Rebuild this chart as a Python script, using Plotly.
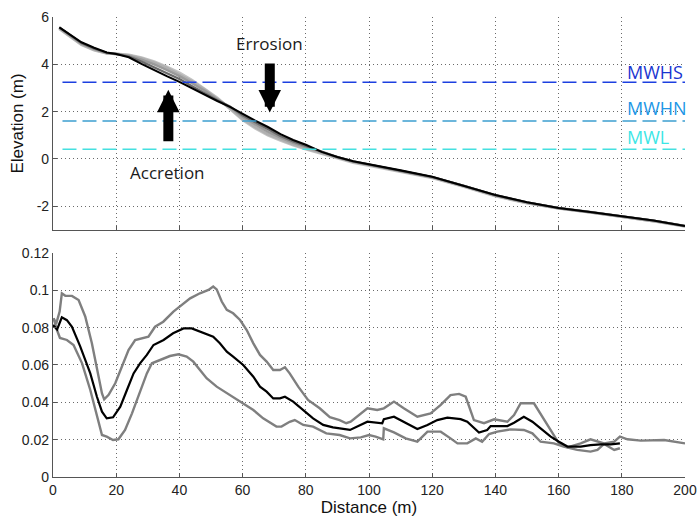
import plotly.graph_objects as go

# ---------------- top panel: beach profiles ----------------
prof_x = [2, 5, 9, 13, 17, 20, 24, 28, 32, 36, 40, 44, 48, 52, 56, 60, 64, 68, 72, 76,
          80, 85, 90, 95, 100, 110, 120, 130, 140, 150, 160, 170, 180, 190, 200]
prof_black = [5.56, 5.30, 4.93, 4.70, 4.50, 4.44, 4.30, 4.02, 3.75, 3.50, 3.26, 2.98, 2.70, 2.45, 2.20, 1.90, 1.62, 1.35, 1.05, 0.80,
              0.60, 0.30, 0.08, -0.10, -0.22, -0.48, -0.75, -1.12, -1.52, -1.83, -2.07, -2.24, -2.41, -2.60, -2.83]
prof_grey1 = [5.52, 5.22, 4.85, 4.62, 4.47, 4.44, 4.38, 4.25, 4.08, 3.85, 3.58, 3.28, 2.93, 2.55, 2.15, 1.70, 1.35, 1.05, 0.82, 0.62,
              0.45, 0.25, 0.05, -0.12, -0.25, -0.50, -0.78, -1.15, -1.55, -1.85, -2.08, -2.25, -2.42, -2.62, -2.84]
prof_grey2 = [5.55, 5.26, 4.88, 4.65, 4.48, 4.43, 4.36, 4.20, 4.00, 3.76, 3.50, 3.20, 2.88, 2.52, 2.18, 1.78, 1.45, 1.15, 0.90, 0.68,
              0.50, 0.28, 0.07, -0.11, -0.24, -0.49, -0.77, -1.14, -1.54, -1.84, -2.08, -2.25, -2.42, -2.61, -2.84]
prof_grey3 = [5.56, 5.28, 4.90, 4.67, 4.49, 4.44, 4.33, 4.12, 3.88, 3.62, 3.38, 3.08, 2.78, 2.48, 2.22, 1.85, 1.55, 1.25, 0.97, 0.74,
              0.55, 0.30, 0.08, -0.10, -0.23, -0.48, -0.76, -1.13, -1.53, -1.83, -2.07, -2.24, -2.41, -2.60, -2.83]
prof_grey4 = [5.50, 5.20, 4.83, 4.60, 4.46, 4.44, 4.40, 4.28, 4.12, 3.90, 3.64, 3.33, 2.97, 2.58, 2.12, 1.65, 1.30, 1.00, 0.78, 0.58,
              0.42, 0.22, 0.02, -0.15, -0.28, -0.53, -0.80, -1.17, -1.57, -1.87, -2.09, -2.26, -2.43, -2.63, -2.85]

level_names = ["MWHS", "MWHN", "MWL"]
level_values = [3.24, 1.61, 0.41]
level_line_colors = ["#1c3fe0", "#3d9fd0", "#45e0e0"]
level_text_colors = ["#1a35d0", "#2196e6", "#3de6e6"]
level_start = 3
level_end = 200

# ---------------- bottom panel: statistics ----------------
mean_x = [0, 1.3, 2.8, 4.4, 6, 8.6, 11.8, 13.9, 15.5, 17,
          19, 21.3, 23.4, 25.5, 27.6, 29.7, 31.8, 35, 38, 41.3,
          43.9, 46.5, 50.7, 52.8, 55, 57, 60.2, 63.4, 65.5, 67.6,
          69.7, 71.8, 73.4, 76, 79, 82.3, 85.5, 88.6, 94, 96.3,
          99.5, 104.2, 104.7, 107.9, 111, 115.3, 118.5, 121.6, 124.8, 129,
          131.1, 134.8, 137.4, 138.5, 143.8, 145.9, 149, 151.7, 154.3, 157.5,
          160.1, 162.8, 167, 170.1, 173.3, 176.5, 179.4]
mean_y = [0.0814, 0.079, 0.0855, 0.084, 0.0805, 0.070, 0.0555, 0.043, 0.035, 0.0314,
          0.032, 0.0377, 0.0466, 0.0555, 0.061, 0.0654, 0.0707, 0.0734, 0.077, 0.0796,
          0.0796, 0.0779, 0.0752, 0.0716, 0.0671, 0.0645, 0.060, 0.0537, 0.0484, 0.0457,
          0.0421, 0.0421, 0.043, 0.0404, 0.0359, 0.0314, 0.0279, 0.0266, 0.0252, 0.027,
          0.0296, 0.0288, 0.031, 0.0323, 0.0296, 0.0257, 0.0279, 0.0305, 0.0318, 0.031,
          0.0296, 0.0238, 0.0252, 0.0273, 0.0273, 0.0291, 0.0323, 0.0296, 0.026, 0.0216,
          0.0189, 0.0163, 0.0163, 0.0171, 0.0175, 0.0175, 0.018]

upper_x = [0.2, 1, 2.1, 2.8, 3.9, 6, 8.1, 10.2, 12.3, 13.9,
           15.5, 16.2, 17.6, 19.7, 21.8, 23.9, 26, 28.6, 30.2, 32.3,
           34.9, 38.1, 40.7, 43.4, 46.5, 49.2, 50.7, 51.8, 53.4, 55,
           57, 59.2, 61.3, 63.4, 65.5, 67.6, 69.7, 71.8, 73.4, 74.9,
           77.6, 80.7, 84.4, 87.6, 90.7, 92.8, 94.2, 97.4, 99.5, 102.6,
           104.7, 107.9, 111, 115.3, 119.5, 122.7, 125.8, 128.5, 130.6, 133.2,
           136.4, 139.6, 143.8, 145.9, 148, 152.2, 154.9, 157.5, 160.1, 162.8,
           167, 170.1, 172.3, 174.4, 177.6, 179.4, 181.8, 186, 193.4, 200]
upper_y = [0.085, 0.082, 0.0886, 0.0984, 0.0971, 0.097, 0.0948, 0.086, 0.0716, 0.0573,
           0.0448, 0.0416, 0.044, 0.0502, 0.0591, 0.068, 0.0734, 0.0743, 0.0752, 0.0805,
           0.0832, 0.0886, 0.0921, 0.0957, 0.0984, 0.1002, 0.102, 0.1005, 0.094, 0.0895,
           0.0877, 0.0841, 0.0787, 0.0716, 0.0654, 0.0618, 0.0573, 0.0573, 0.0588, 0.0555,
           0.0484, 0.0413, 0.0368, 0.032, 0.0305, 0.0288, 0.0296, 0.0341, 0.0368, 0.0359,
           0.0368, 0.0404, 0.0368, 0.0323, 0.0341, 0.0386, 0.0439, 0.0445, 0.043, 0.0305,
           0.0288, 0.0309, 0.0296, 0.0332, 0.0395, 0.0395, 0.0323, 0.0252, 0.018, 0.0159,
           0.018, 0.0202, 0.0189, 0.018, 0.0189, 0.0216, 0.0202, 0.0195, 0.0198, 0.018]

lower_x = [0.2, 1.2, 2.2, 4.4, 6.5, 9.2, 11.8, 13.9, 15.5, 17,
           19, 20.7, 22.8, 25, 27.6, 29.7, 31.3, 33.9, 37, 39.7,
           42.3, 44.4, 46.5, 48.6, 51.8, 56, 60.2, 63.4, 66.5, 70.7,
           72.3, 74.9, 76.5, 79.2, 82.3, 86.5, 90.7, 94, 97.4, 100,
           102.1, 104.5, 104.7, 107.9, 111.6, 115.3, 118.5, 122.7, 125.8, 128,
           131.1, 133.8, 135.8, 138, 140.6, 144.8, 149, 151.7, 154.3, 158.5,
           161.6, 165.9, 170.1, 172.3, 174.4, 177.6, 179.4]
lower_y = [0.085, 0.079, 0.0745, 0.0734, 0.0707, 0.0609, 0.0466, 0.0323, 0.0225, 0.0216,
           0.0198, 0.0202, 0.0252, 0.0341, 0.0466, 0.0555, 0.0609, 0.0627, 0.0648, 0.0657,
           0.0645, 0.0618, 0.0573, 0.0529, 0.0484, 0.0439, 0.0395, 0.0359, 0.0314, 0.027,
           0.027, 0.0296, 0.0305, 0.0279, 0.027, 0.0234, 0.0225, 0.0207, 0.0212, 0.0225,
           0.0216, 0.0202, 0.0261, 0.0239, 0.0207, 0.0189, 0.0243, 0.0243, 0.0207, 0.018,
           0.018, 0.0207, 0.0189, 0.023, 0.0243, 0.0255, 0.0252, 0.0234, 0.0189, 0.018,
           0.0163, 0.0145, 0.0136, 0.0145, 0.0177, 0.0145, 0.0154]

x_ticks = [0, 20, 40, 60, 80, 100, 120, 140, 160, 180, 200]
x_ticktext = ["0", "20", "40", "60", "80", "100", "120", "140", "160", "180", "200"]
elev_ticks = [-2, 0, 2, 4, 6]
elev_ticktext = ["-2", "0", "2", "4", "6"]
stat_ticks = [0, 0.02, 0.04, 0.06, 0.08, 0.1, 0.12]
stat_ticktext = ["0", "0.02", "0.04", "0.06", "0.08", "0.1", "0.12"]

fig = go.Figure()

# profiles
for ys, col, w in [(prof_grey4, "#c4c4c4", 2.8), (prof_grey1, "#b0b0b0", 2.8),
                   (prof_grey2, "#9a9a9a", 2.4), (prof_grey3, "#6a6a6a", 2.2),
                   (prof_black, "#000000", 2.1)]:
    fig.add_trace(go.Scatter(x=prof_x, y=ys, mode="lines", line=dict(color=col, width=w),
                             xaxis="x", yaxis="y", showlegend=False, hoverinfo="skip"))

# reference water levels
for name, val, lc in zip(level_names, level_values, level_line_colors):
    fig.add_trace(go.Scatter(x=[level_start, level_end], y=[val, val], mode="lines",
                             line=dict(color=lc, width=1.5, dash="14px,6px"),
                             xaxis="x", yaxis="y", showlegend=False, hoverinfo="skip"))

label_y = [3.68, 2.17, 0.95]
for name, ly, tc in zip(level_names, label_y, level_text_colors):
    fig.add_annotation(x=181, y=ly, xref="x", yref="y", text=name, showarrow=False,
                       xanchor="left", yanchor="middle",
                       font=dict(family="Open Sans", size=18, color=tc))

# arrows
fig.add_annotation(x=68.6, y=1.96, ax=68.6, ay=4.1, xref="x", yref="y", axref="x", ayref="y",
                   text="", showarrow=True, arrowhead=2, arrowwidth=10, arrowsize=0.45,
                   arrowcolor="#000000")
fig.add_annotation(x=36.5, y=2.93, ax=36.5, ay=0.69, xref="x", yref="y", axref="x", ayref="y",
                   text="", showarrow=True, arrowhead=2, arrowwidth=10, arrowsize=0.45,
                   arrowcolor="#000000")
fig.add_annotation(x=68.6, y=4.9, xref="x", yref="y", text="Errosion", showarrow=False,
                   font=dict(family="Open Sans", size=17, color="#1a1a1a"))
fig.add_annotation(x=36.3, y=-0.55, xref="x", yref="y", text="Accretion", showarrow=False,
                   font=dict(family="Open Sans", size=17, color="#1a1a1a"))

# statistics
fig.add_trace(go.Scatter(x=upper_x, y=upper_y, mode="lines", line=dict(color="#7f7f7f", width=2.4),
                         xaxis="x2", yaxis="y2", showlegend=False, hoverinfo="skip"))
fig.add_trace(go.Scatter(x=lower_x, y=lower_y, mode="lines", line=dict(color="#7f7f7f", width=2.4),
                         xaxis="x2", yaxis="y2", showlegend=False, hoverinfo="skip"))
fig.add_trace(go.Scatter(x=mean_x, y=mean_y, mode="lines", line=dict(color="#000000", width=2.2),
                         xaxis="x2", yaxis="y2", showlegend=False, hoverinfo="skip"))

tickfont = dict(family="Liberation Sans", size=14, color="#222222")
common = dict(showgrid=True, gridcolor="#6a6a6a", griddash="1px,3px", gridwidth=1,
              zeroline=False, showline=True, linecolor="#555555", linewidth=1.2,
              ticks="inside", ticklen=4, tickcolor="#555555", tickfont=tickfont,
              automargin=False, tickmode="array")

fig.update_layout(
    width=699, height=519,
    margin=dict(l=53, r=14, t=17, b=42),
    paper_bgcolor="white", plot_bgcolor="white",
    xaxis=dict(domain=[0, 1], range=[0, 200], anchor="y", tickvals=x_ticks,
               showticklabels=False, **common),
    yaxis=dict(domain=[0.537, 1], range=[-3, 6], anchor="x", tickvals=elev_ticks,
               ticktext=elev_ticktext,
               title=dict(text="Elevation (m)", standoff=8,
                          font=dict(family="Liberation Sans", size=17, color="#111111")),
               **common),
    xaxis2=dict(domain=[0, 1], range=[0, 200], anchor="y2", tickvals=x_ticks,
                ticktext=x_ticktext,
                title=dict(text="Distance (m)", standoff=4,
                           font=dict(family="Liberation Sans", size=17, color="#111111")),
                **common),
    yaxis2=dict(domain=[0, 0.487], range=[0, 0.12], anchor="x2", tickvals=stat_ticks,
                ticktext=stat_ticktext, **common),
)

# remove the browser's default page margin so the figure fills the window exactly
fig.write_html("out.html", config={"displayModeBar": False},
               post_script="document.body.style.margin='0';document.body.style.overflow='hidden';")
